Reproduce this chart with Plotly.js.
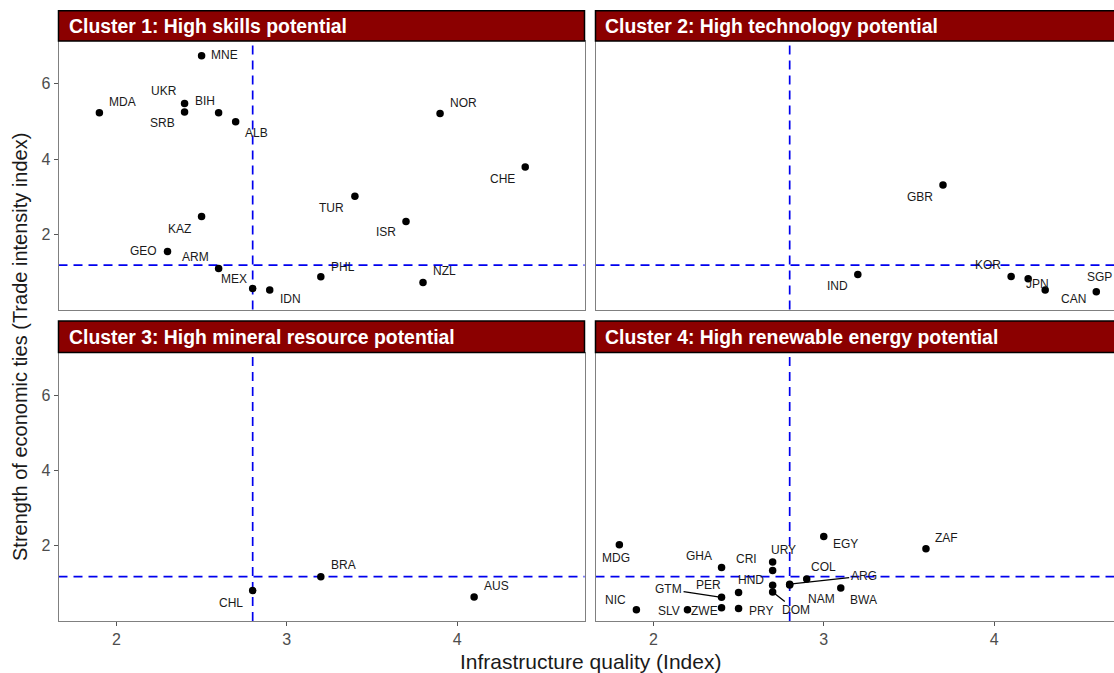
<!DOCTYPE html>
<html><head><meta charset="utf-8">
<script src="https://cdn.plot.ly/plotly-3.0.1.min.js"></script>
<style>html,body{margin:0;padding:0;overflow:hidden;background:#fff}</style>
</head><body><div id="chart" style="width:1125px;height:673px"></div>
<script>
// ---- Data ----
const panelTitles = [
  "Cluster 1: High skills potential",
  "Cluster 2: High technology potential",
  "Cluster 3: High mineral resource potential",
  "Cluster 4: High renewable energy potential"
];
const c1Codes = ["MNE","MDA","UKR","SRB","BIH","ALB","KAZ","GEO","ARM","MEX","IDN","PHL","TUR","ISR","NOR","CHE","NZL"];
const c1Infra = [2.5,1.9,2.4,2.4,2.6,2.7,2.5,2.3,2.6,2.8,2.9,3.2,3.4,3.7,3.9,4.4,3.8];
const c1Trade = [6.75,5.23,5.48,5.25,5.23,4.99,2.47,1.54,1.09,0.56,0.52,0.87,3.01,2.34,5.21,3.79,0.72];

const c2Codes = ["GBR","IND","KOR","JPN","CAN","SGP"];
const c2Infra = [3.7,3.2,4.1,4.2,4.3,4.6];
const c2Trade = [3.31,0.93,0.88,0.82,0.52,0.47];

const c3Codes = ["CHL","BRA","AUS"];
const c3Infra = [2.8,3.2,4.1];
const c3Trade = [0.81,1.18,0.64];

const c4Codes = ["MDG","NIC","SLV","ZWE","GTM","GHA","PER","PRY","URY","CRI","HND","DOM","ARG","NAM","COL","EGY","ZAF","BWA"];
const c4Infra = [1.8,1.9,2.2,2.4,2.4,2.4,2.5,2.5,2.7,2.7,2.7,2.7,2.8,2.8,2.9,3.0,3.6,3.1];
const c4Trade = [2.03,0.30,0.30,0.35,0.63,1.42,0.76,0.33,1.57,1.34,0.95,0.77,0.98,0.96,1.12,2.25,1.92,0.88];

const infraThreshold = 2.8;
const tradeThreshold = 1.18;
const xTickVals = [2,3,4];
const yTickVals = [2,4,6];
const xTitle = "Infrastructure quality (Index)";
const yTitle = "Strength of economic ties (Trade intensity index)";

// ---- Label placement (pixel offsets, repel-style) ----
const c1Offsets = [[23,-1],[23,-11],[-21,-12],[-22,11],[-14,-12],[21,11],[-22,12],[-24,-1],[-23,-12],[-19,-9],[21,9],[22,-10],[-23,12],[-20,10],[23,-11],[-23,12],[21,-11]];
const c2Offsets = [[-23,12],[-20,11],[-23,-11],[9,5],[28,9],[3,-15]];
const c3Offsets = [[-22,12],[23,-12],[22,-11]];
const c4Offsets = [[-3,13],[-21,-10],[-18,1],[-17,3],[-53,-8],[-23,-12],[-30,-7],[22,2],[11,-12],[-26,-12],[-22,-5],[23,18],[74,-8],[32,14],[17,-12],[22,8],[21,-11],[23,12]];
const leaderLabels = ["GTM","DOM","ARG"];

// ---- Geometry ----
const W = 1125, H = 673;
const px = v => v / W, py = v => 1 - v / H;
const colX = [[58.5,584.5],[595.5,1121.5]];
const rowPlot = [[41,309.5],[352.5,621]];
const rowStrip = [[10.7,41],[321,352.5]];
const xRange = [1.66, 4.748];
const yRange = [0, 7.14];

const clusters = [
  {codes:c1Codes, x:c1Infra, y:c1Trade, off:c1Offsets},
  {codes:c2Codes, x:c2Infra, y:c2Trade, off:c2Offsets},
  {codes:c3Codes, x:c3Infra, y:c3Trade, off:c3Offsets},
  {codes:c4Codes, x:c4Infra, y:c4Trade, off:c4Offsets}
];

const FONT = "Liberation Sans, Arial, sans-serif";
const traces = [], annotations = [], shapes = [];
const layout = {
  width: W, height: H, margin:{l:0,r:0,t:0,b:0},
  paper_bgcolor:"#fff", plot_bgcolor:"#fff", showlegend:false,
  font:{family:FONT}
};

clusters.forEach((c,i) => {
  const col = i % 2, row = Math.floor(i/2);
  const n = i === 0 ? "" : String(i+1);
  const xa = "x"+n, ya = "y"+n;
  traces.push({
    type:"scatter", mode:"markers", x:c.x, y:c.y, xaxis:xa, yaxis:ya,
    marker:{color:"#000", size:7.5}, hoverinfo:"text", text:c.codes, cliponaxis:false
  });
  layout["xaxis"+n] = {
    domain:[px(colX[col][0]), px(colX[col][1])], range:xRange, anchor:ya,
    showgrid:false, zeroline:false, showline:true, mirror:true, linecolor:"#808080", linewidth:1,
    tickvals:xTickVals, ticks: row===1 ? "outside" : "", ticklen:4, tickcolor:"#555",
    showticklabels: row===1, tickfont:{size:16, color:"#4d4d4d", family:FONT}
  };
  layout["yaxis"+n] = {
    domain:[py(rowPlot[row][1]), py(rowPlot[row][0])], range:yRange, anchor:xa,
    showgrid:false, zeroline:false, showline:true, mirror:true, linecolor:"#808080", linewidth:1,
    tickvals:yTickVals, ticks: col===0 ? "outside" : "", ticklen:4, tickcolor:"#555",
    showticklabels: col===0, tickfont:{size:16, color:"#4d4d4d", family:FONT}
  };
  // threshold lines
  shapes.push({type:"line", xref:xa, yref:ya+" domain", x0:infraThreshold, x1:infraThreshold, y0:0, y1:1,
    line:{color:"#0000ee", width:1.7, dash:"9px,6px"}, layer:"below"});
  shapes.push({type:"line", xref:xa+" domain", yref:ya, x0:0, x1:1, y0:tradeThreshold, y1:tradeThreshold,
    line:{color:"#0000ee", width:1.7, dash:"9px,6px"}, layer:"below"});
  // strip
  shapes.push({type:"rect", xref:"paper", yref:"paper",
    x0:px(colX[col][0]), x1:px(colX[col][1]), y0:py(rowStrip[row][1]), y1:py(rowStrip[row][0]),
    fillcolor:"#8b0000", line:{color:"#000", width:1.5}});
  annotations.push({xref:"paper", yref:"paper", x:px(colX[col][0]+8), y:py((rowStrip[row][0]+rowStrip[row][1])/2),
    xanchor:"left", yanchor:"middle", showarrow:false, text:"<b>"+panelTitles[i]+"</b>",
    font:{family:FONT, size:19.4, color:"#fff"}});
  // point labels
  c.codes.forEach((code,k) => {
    const [dx,dy] = c.off[k];
    if (leaderLabels.includes(code)) {
      annotations.push({xref:xa, yref:ya, x:c.x[k], y:c.y[k], text:code, showarrow:true,
        arrowhead:0, arrowwidth:1.3, arrowcolor:"#000", ax:dx, ay:dy, standoff:0, startstandoff:0,
        font:{family:FONT, size:12, color:"#1a1a1a"}});
    } else {
      annotations.push({xref:xa, yref:ya, x:c.x[k], y:c.y[k], text:code, showarrow:false,
        xshift:dx, yshift:-dy, xanchor:"center", yanchor:"middle",
        font:{family:FONT, size:12, color:"#1a1a1a"}});
    }
  });
});

annotations.push({xref:"paper", yref:"paper", x:px(590), y:py(661), xanchor:"center", yanchor:"middle",
  showarrow:false, text:xTitle, font:{family:FONT, size:21, color:"#1a1a1a"}});
annotations.push({xref:"paper", yref:"paper", x:px(20), y:py(347), xanchor:"center", yanchor:"middle",
  showarrow:false, textangle:-90, text:yTitle, font:{family:FONT, size:20, color:"#1a1a1a"}});

layout.shapes = shapes;
layout.annotations = annotations;
Plotly.newPlot("chart", traces, layout, {displayModeBar:false, staticPlot:true});
</script>
</body></html>
